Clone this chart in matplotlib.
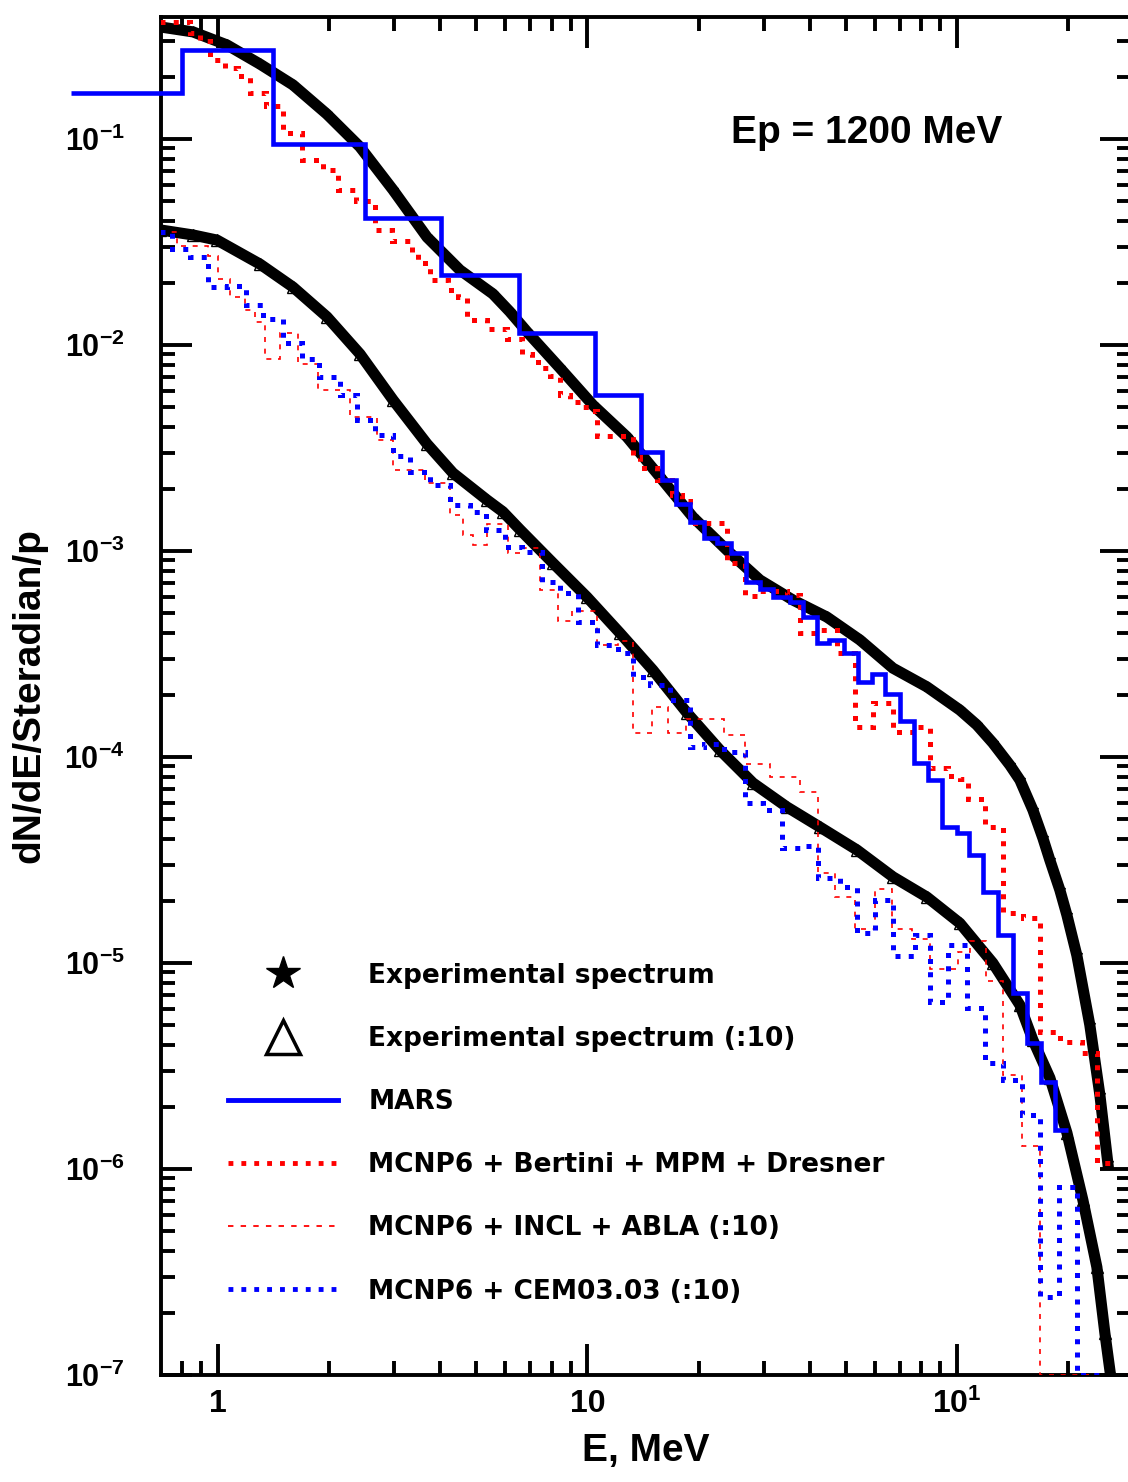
import matplotlib
matplotlib.use('Agg')
import matplotlib.pyplot as plt
from matplotlib.lines import Line2D
from matplotlib.ticker import LogLocator, NullFormatter

plt.rcParams['font.family'] = ['Liberation Sans', 'DejaVu Sans']
plt.rcParams['font.weight'] = 'bold'
plt.rcParams['mathtext.fontset'] = 'custom'
plt.rcParams['mathtext.rm'] = 'Liberation Sans:bold'
plt.rcParams['mathtext.bf'] = 'Liberation Sans:bold'

# experimental spectrum (stars)
exp_E = [0.697, 0.856, 1.058, 1.299, 1.596, 1.972, 2.423, 2.977, 3.679, 4.519,
         5.549, 6.166, 6.859, 8.425, 10.35, 12.79, 15.71, 19.30, 23.85, 29.30,
         36.00, 44.48, 54.65, 67.12, 82.95, 101.9, 113.3, 125.1, 139.1, 148.1,
         160.6, 170.9, 178.5, 190.0, 198.5, 211.2, 229.0, 243.8, 256.2]
exp_dN = [0.350, 0.331, 0.286, 0.231, 0.183, 0.132, 0.0915, 0.0566, 0.0334, 0.0231,
          0.0177, 0.0145, 0.0116, 7.73e-3, 5.11e-3, 3.58e-3, 2.29e-3, 1.46e-3, 1.01e-3, 7.23e-4,
          5.78e-4, 4.78e-4, 3.70e-4, 2.70e-4, 2.19e-4, 1.69e-4, 1.43e-4, 1.17e-4, 9.14e-5, 7.73e-5,
          5.53e-5, 4.04e-5, 3.16e-5, 2.26e-5, 1.71e-5, 1.09e-5, 5.0e-6, 2.29e-6, 1.07e-6]

# experimental spectrum divided by 10 (triangles)
exp10_E = [0.697, 0.856, 0.994, 1.299, 1.596, 1.972, 2.423, 2.977, 3.679, 4.325,
           5.346, 5.905, 6.567, 8.066, 9.968, 12.24, 15.04, 18.59, 22.84, 28.05,
           34.67, 42.59, 53.62, 67.12, 82.95, 101.9, 125.1, 148.1, 160.6, 178.5,
           198.5, 219.3, 239.3, 251.5, 259.4]
exp10_dN = [0.0362, 0.0342, 0.0323, 0.0247, 0.0191, 0.0137, 9.04e-3, 5.41e-3, 3.31e-3, 2.39e-3,
            1.77e-3, 1.55e-3, 1.27e-3, 8.74e-4, 5.98e-4, 4.00e-4, 2.64e-4, 1.64e-4, 1.08e-4, 7.48e-5,
            5.72e-5, 4.57e-5, 3.54e-5, 2.62e-5, 2.09e-5, 1.56e-5, 1.00e-5, 6.25e-6, 4.23e-6, 2.77e-6,
            1.50e-6, 7.07e-7, 3.34e-7, 1.60e-7, 1.06e-7]

# MARS histogram
mars_edges = [0.40, 0.80, 1.41, 2.50, 4.01, 6.53, 10.5, 14.0, 15.9, 17.4,
              18.9, 20.7, 22.4, 24.5, 26.9, 29.3, 31.8, 35.3, 38.3, 41.8,
              45.0, 49.4, 54.0, 58.9, 63.9, 70.1, 76.5, 83.5, 91.1, 100,
              108, 118, 129, 142, 155, 169, 184, 200]
mars_dN = [0.167, 0.270, 0.0946, 0.0414, 0.0219, 0.0114, 5.72e-3, 3.03e-3, 2.21e-3, 1.69e-3,
           1.38e-3, 1.16e-3, 1.09e-3, 9.77e-4, 7.07e-4, 6.54e-4, 5.98e-4, 5.65e-4, 4.78e-4, 3.57e-4,
           3.70e-4, 3.20e-4, 2.31e-4, 2.53e-4, 2.02e-4, 1.50e-4, 9.35e-5, 7.73e-5, 4.57e-5, 4.28e-5,
           3.34e-5, 2.21e-5, 1.37e-5, 7.15e-6, 4.09e-6, 2.64e-6, 1.55e-6]

# MCNP6 + Bertini + MPM + Dresner
bert_edges = [0.697, 0.840, 0.894, 0.951, 1.044, 1.133, 1.221, 1.349, 1.499, 1.688,
              1.924, 2.113, 2.363, 2.660, 2.958, 3.350, 3.478, 3.748, 4.194, 4.462,
              4.720, 5.346, 6.055, 6.648, 7.076, 7.484, 7.915, 8.425, 8.968, 9.544,
              10.16, 10.61, 13.28, 13.87, 15.42, 16.93, 18.03, 18.94, 23.85, 26.69,
              29.30, 34.67, 37.59, 42.06, 47.33, 52.97, 59.26, 67.12, 76.97, 84.54,
              94.54, 101.9, 107.1, 119.1, 133.2, 150.9, 167.7, 190.0, 217.9, 239.3,
              259.4]
bert_dN = [0.370, 0.327, 0.299, 0.242, 0.221, 0.202, 0.167, 0.145, 0.107, 0.0791,
           0.0707, 0.0566, 0.0500, 0.0362, 0.0320, 0.0283, 0.0250, 0.0207, 0.0185, 0.0171,
           0.0132, 0.0120, 0.0107, 9.04e-3, 8.27e-3, 7.73e-3, 7.07e-3, 5.72e-3, 5.29e-3, 5.00e-3,
           4.78e-3, 3.62e-3, 2.86e-3, 2.53e-3, 2.21e-3, 1.87e-3, 1.75e-3, 1.37e-3, 8.74e-4, 6.05e-4,
           6.39e-4, 6.11e-4, 4.00e-4, 4.13e-4, 3.20e-4, 1.40e-4, 1.83e-4, 1.32e-4, 1.40e-4, 8.84e-5,
           8.09e-5, 7.82e-5, 6.25e-5, 4.57e-5, 1.75e-5, 1.65e-5, 4.62e-6, 4.13e-6, 3.66e-6, 1.07e-6]

# MCNP6 + INCL + ABLA (:10)
incl_edges = [0.697, 0.775, 0.940, 1.000, 1.078, 1.183, 1.259, 1.340, 1.472, 1.646,
              1.865, 2.276, 2.694, 2.977, 3.633, 4.246, 4.604, 4.899, 5.346, 6.093,
              6.648, 7.437, 8.322, 9.080, 10.61, 12.09, 13.28, 14.95, 16.52, 18.48,
              23.41, 26.69, 31.19, 37.59, 42.06, 46.76, 52.97, 59.99, 66.71, 75.53,
              84.54, 100.6, 108.4, 119.8, 133.2, 149.9, 167.7, 229.1]
incl_dN = [0.0354, 0.0302, 0.0270, 0.0209, 0.0171, 0.0148, 0.0129, 8.55e-3, 0.0114, 8.09e-3,
           6.05e-3, 4.47e-3, 3.46e-3, 2.47e-3, 2.14e-3, 1.50e-3, 1.20e-3, 1.07e-3, 1.35e-3, 9.78e-4,
           1.03e-3, 6.46e-4, 4.57e-4, 5.11e-4, 3.50e-4, 3.66e-4, 1.31e-4, 1.75e-4, 1.31e-4, 1.53e-4,
           1.28e-4, 9.25e-5, 8.00e-5, 6.76e-5, 2.73e-5, 2.09e-5, 1.46e-5, 2.29e-5, 1.46e-5, 1.31e-5,
           9.35e-6, 1.13e-5, 1.28e-5, 8.18e-6, 2.86e-6, 1.29e-6, 1.0e-7]

# MCNP6 + CEM03.03 (:10)
cem_edges = [0.697, 0.751, 0.840, 0.940, 1.058, 1.191, 1.324, 1.499, 1.688, 1.876,
             2.139, 2.378, 2.660, 2.977, 3.308, 3.748, 4.246, 4.808, 5.313, 5.981,
             6.648, 7.530, 8.425, 9.426, 10.61, 12.09, 13.28, 14.76, 16.72, 18.94,
             20.67, 23.41, 26.69, 29.85, 33.61, 37.59, 42.06, 48.25, 53.62, 59.99,
             67.12, 76.97, 84.54, 94.54, 106.4, 119.1, 133.2, 149.9, 167.7, 188.8,
             211.2, 243.8]
cem_dN = [0.0354, 0.0292, 0.0267, 0.0191, 0.0193, 0.0156, 0.0134, 0.0102, 8.55e-3, 6.99e-3,
          5.72e-3, 4.32e-3, 3.66e-3, 2.89e-3, 2.42e-3, 2.09e-3, 1.67e-3, 1.55e-3, 1.27e-3, 1.05e-3,
          9.89e-4, 7.07e-4, 6.25e-4, 4.52e-4, 3.50e-4, 3.20e-4, 2.44e-4, 2.24e-4, 1.89e-4, 1.12e-4,
          1.16e-4, 1.06e-4, 5.98e-5, 5.53e-5, 3.62e-5, 3.70e-5, 2.59e-5, 2.34e-5, 1.40e-5, 2.02e-5,
          1.08e-5, 1.37e-5, 6.46e-6, 1.22e-5, 6.05e-6, 3.27e-6, 2.70e-6, 1.83e-6, 2.39e-7, 8.18e-7,
          1.0e-7]

x_ticks = [1, 10, 100]
x_ticklabels = ['1', '10', r'$\mathbf{10^{1}}$']
y_ticks = [1e-7, 1e-6, 1e-5, 1e-4, 1e-3, 1e-2, 1e-1]
y_ticklabels = [r'$\mathbf{10^{-7}}$', r'$\mathbf{10^{-6}}$', r'$\mathbf{10^{-5}}$',
                r'$\mathbf{10^{-4}}$', r'$\mathbf{10^{-3}}$', r'$\mathbf{10^{-2}}$',
                r'$\mathbf{10^{-1}}$']

fig = plt.figure(figsize=(11.28, 14.82), dpi=100)
ax = fig.add_axes([161 / 1128, 107 / 1482, 970 / 1128, 1358 / 1482])
ax.set_xscale('log')
ax.set_yscale('log')

# experimental curves: dense markers forming a thick band
ax.plot(exp_E, exp_dN, color='black', lw=8, marker='*', ms=8, zorder=2,
        solid_joinstyle='round')
ax.plot(exp10_E, exp10_dN, color='black', lw=8, marker='^', ms=8,
        mfc='none', mec='black', zorder=2, solid_joinstyle='round')

# calculated histograms
ax.stairs(mars_dN, mars_edges, edgecolor='blue', lw=3.3, baseline=None,
          clip_on=False, zorder=4)
ax.stairs(bert_dN, bert_edges, edgecolor='red', lw=3.6, ls=':', baseline=None, zorder=3)
ax.stairs(incl_dN, incl_edges, edgecolor='red', lw=1.2, ls=(0, (3, 4)),
          baseline=None, zorder=3)
ax.stairs(cem_dN, cem_edges, edgecolor='blue', lw=3.6, ls=':', baseline=None, zorder=3)

ax.set_xlim(0.701, 296)
ax.set_ylim(1e-7, 0.391)

ax.set_xticks(x_ticks)
ax.set_xticklabels(x_ticklabels)
ax.xaxis.set_minor_locator(LogLocator(base=10, subs=range(2, 10), numticks=20))
ax.xaxis.set_minor_formatter(NullFormatter())
ax.set_yticks(y_ticks)
ax.set_yticklabels(y_ticklabels)
ax.yaxis.set_minor_locator(LogLocator(base=10, subs=range(2, 10), numticks=30))
ax.yaxis.set_minor_formatter(NullFormatter())

ax.tick_params(which='major', direction='in', length=22, width=2.8, top=True, right=True)
ax.tick_params(which='minor', direction='in', length=10, width=2.8, top=True, right=True)
ax.tick_params(axis='x', labelsize=23, pad=10)
ax.tick_params(axis='y', labelsize=22, pad=26)
for sp in ax.spines.values():
    sp.set_linewidth(2.8)

ax.set_xlabel('E, MeV', fontsize=28, fontweight='bold', labelpad=9)
ax.set_ylabel('dN/dE/Steradian/p', fontsize=28, fontweight='bold', labelpad=12)

ax.text(0.5876, 0.9072, 'Ep = 1200 MeV', transform=ax.transAxes, fontsize=28,
        fontweight='bold', ha='left', va='baseline')

handles = [
    Line2D([], [], ls='none', marker='*', ms=25, color='black'),
    Line2D([], [], ls='none', marker='^', ms=24, mfc='white', mec='black', mew=2.5),
    Line2D([], [], color='blue', lw=3.5),
    Line2D([], [], color='red', lw=3.5, ls=':'),
    Line2D([], [], color='red', lw=1.3, ls=(0, (3, 4))),
    Line2D([], [], color='blue', lw=3.5, ls=':'),
]
labels = ['Experimental spectrum', 'Experimental spectrum (:10)', 'MARS',
          'MCNP6 + Bertini + MPM + Dresner', 'MCNP6 + INCL + ABLA (:10)',
          'MCNP6 + CEM03.03 (:10)']
ax.legend(handles, labels, loc='upper left', bbox_to_anchor=(0.0691, 0.3037),
          frameon=False, borderpad=0, borderaxespad=0, handlelength=4.17,
          handletextpad=1.14, labelspacing=1.41,
          prop={'family': 'DejaVu Sans', 'weight': 'bold', 'size': 19})

fig.savefig('out.png', dpi=100)
